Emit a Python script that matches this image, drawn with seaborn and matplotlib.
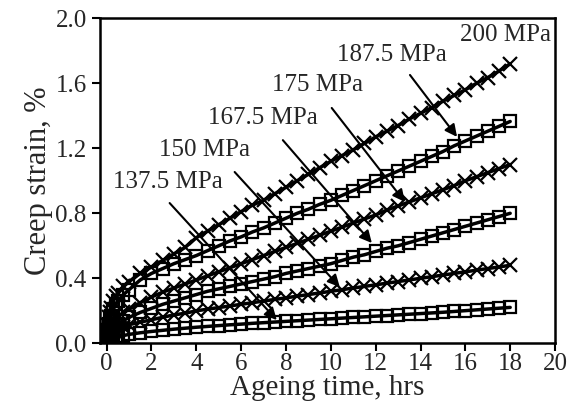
import matplotlib
matplotlib.use("Agg")
import matplotlib.pyplot as plt
import seaborn as sns

sns.set_style("ticks")
plt.rcParams["font.family"] = ["Liberation Serif", "DejaVu Serif"]

# ------------------------------------------------------
# Data
# ------------------------------------------------------

time_h = [0, 0.02, 0.05, 0.1, 0.15, 0.2, 0.3, 0.4, 0.5, 0.75, 1.0,
          1.5, 2.0, 2.5, 3.0, 3.5, 4.0, 4.5, 5.0, 5.5, 6.0, 6.5, 7.0,
          7.5, 8.0, 8.5, 9.0, 9.5, 10.0, 10.5, 11.0, 11.5, 12.0, 12.5,
          13.0, 13.5, 14.0, 14.5, 15.0, 15.5, 16.0, 16.5, 17.0, 17.5, 18.0]

strain_1375 = [0, 0.008, 0.015, 0.02, 0.025, 0.028, 0.033, 0.037, 0.04, 0.048, 0.055,
               0.065, 0.073, 0.08, 0.087, 0.093, 0.099, 0.104, 0.109, 0.114, 0.118, 0.123, 0.127,
               0.131, 0.135, 0.139, 0.143, 0.147, 0.151, 0.155, 0.159, 0.163, 0.167, 0.171,
               0.175, 0.179, 0.183, 0.187, 0.191, 0.196, 0.201, 0.206, 0.211, 0.216, 0.221]

strain_150 = [0, 0.015, 0.03, 0.045, 0.055, 0.06, 0.07, 0.08, 0.09, 0.10, 0.115,
              0.13, 0.145, 0.16, 0.175, 0.185, 0.20, 0.21, 0.22, 0.23, 0.24, 0.25, 0.26,
              0.27, 0.28, 0.29, 0.30, 0.31, 0.32, 0.33, 0.34, 0.35, 0.36, 0.37,
              0.38, 0.39, 0.40, 0.41, 0.42, 0.43, 0.44, 0.45, 0.46, 0.47, 0.48]

strain_1675 = [0, 0.02, 0.04, 0.06, 0.075, 0.085, 0.10, 0.11, 0.12, 0.14, 0.16,
               0.19, 0.215, 0.24, 0.26, 0.28, 0.30, 0.32, 0.335, 0.35, 0.365, 0.38, 0.395,
               0.41, 0.43, 0.445, 0.46, 0.475, 0.49, 0.51, 0.53, 0.545, 0.565, 0.585,
               0.60, 0.62, 0.64, 0.66, 0.68, 0.70, 0.72, 0.74, 0.76, 0.78, 0.80]

strain_175 = [0, 0.03, 0.05, 0.08, 0.10, 0.11, 0.13, 0.15, 0.16, 0.19, 0.21,
              0.25, 0.285, 0.315, 0.34, 0.365, 0.39, 0.415, 0.44, 0.465, 0.49, 0.515, 0.54,
              0.565, 0.59, 0.615, 0.64, 0.665, 0.69, 0.715, 0.74, 0.765, 0.79, 0.82,
              0.845, 0.87, 0.895, 0.92, 0.945, 0.97, 1.00, 1.025, 1.05, 1.075, 1.10]

strain_1875 = [0, 0.04, 0.08, 0.12, 0.15, 0.17, 0.21, 0.24, 0.26, 0.30, 0.33,
               0.39, 0.43, 0.46, 0.49, 0.515, 0.54, 0.57, 0.60, 0.63, 0.655, 0.685, 0.71,
               0.74, 0.77, 0.80, 0.825, 0.855, 0.88, 0.91, 0.94, 0.97, 1.00, 1.03,
               1.06, 1.09, 1.12, 1.15, 1.18, 1.215, 1.245, 1.275, 1.305, 1.335, 1.365]

strain_200 = [0, 0.06, 0.11, 0.16, 0.19, 0.22, 0.26, 0.29, 0.31, 0.35, 0.38,
              0.43, 0.47, 0.51, 0.55, 0.59, 0.65, 0.69, 0.73, 0.77, 0.81, 0.85, 0.88,
              0.92, 0.96, 1.00, 1.04, 1.08, 1.12, 1.155, 1.19, 1.23, 1.27, 1.305,
              1.34, 1.38, 1.415, 1.45, 1.49, 1.525, 1.56, 1.60, 1.635, 1.675, 1.72]

stress_labels = ["137.5 MPa", "150 MPa", "167.5 MPa", "175 MPa", "187.5 MPa", "200 MPa"]
series = [strain_1375, strain_150, strain_1675, strain_175, strain_1875, strain_200]
markers = ["s", "x", "s", "x", "s", "x"]

# label text position, arrow start, arrow tip (data coords); None = no arrow
label_pos = [(2.72, 0.99), (4.38, 1.19), (6.96, 1.386), (9.42, 1.59), (12.72, 1.774), (17.77, 1.897)]
arrow_start = [(2.81, 0.863), (5.71, 1.054), (7.86, 1.25), (10.04, 1.448), (13.53, 1.651), None]
arrow_tip = [(7.59, 0.143), (10.4, 0.346), (11.83, 0.617), (13.3, 0.87), (15.63, 1.27), None]

# ------------------------------------------------------
# Plot
# ------------------------------------------------------

fig = plt.figure(figsize=(5.71, 4.12), dpi=100)
ax = fig.add_axes([0.175, 0.1667, 0.797, 0.789])

for vals, mk in zip(series, markers):
    sns.lineplot(
        x=time_h, y=vals, ax=ax, color="black", lw=2.5,
        marker=mk, markersize=8.5 if mk == "s" else 10,
        markerfacecolor="none", markeredgecolor="black", markeredgewidth=1.6,
        estimator=None, sort=False,
    )

for lab, pos, st, tip in zip(stress_labels, label_pos, arrow_start, arrow_tip):
    ax.text(pos[0], pos[1], lab, fontsize=18, ha="center", va="center")
    if st is not None:
        ax.annotate("", xy=tip, xytext=st,
                    arrowprops=dict(arrowstyle="-|>", color="black", lw=1.5,
                                    mutation_scale=18, shrinkA=0, shrinkB=0))

ax.set_xlim(-0.3, 20)
ax.set_ylim(0, 2.0)
ax.set_xticks(range(0, 21, 2))
ax.set_yticks([0, 0.4, 0.8, 1.2, 1.6, 2.0])
ax.set_yticklabels(["0.0", "0.4", "0.8", "1.2", "1.6", "2.0"])
ax.tick_params(labelsize=18, width=1.5, length=6, direction="out", color="black")
ax.tick_params(axis="x", pad=1)
ax.set_xlabel("Ageing time, hrs", fontsize=21, labelpad=0)
ax.set_ylabel("Creep strain, %", fontsize=22, labelpad=2)
for s in ax.spines.values():
    s.set_visible(True)
    s.set_linewidth(1.8)
    s.set_color("black")

fig.savefig("out.png", dpi=100)
